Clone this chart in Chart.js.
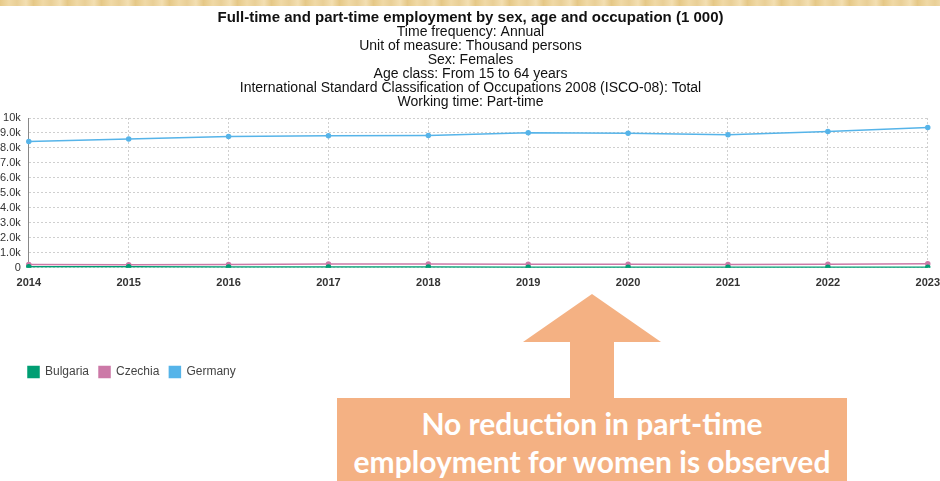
<!DOCTYPE html>
<html lang="en">
<head>
<meta charset="UTF-8">
<title>Part-time employment, females</title>
<script src="https://cdn.jsdelivr.net/npm/chart.js"></script>
<style>
    body {
        margin: 0;
        width: 940px;
        height: 481px;
        overflow: hidden;
        background: #fff;
        position: relative;
    }

    .band {
        position: absolute;
        left: 0; top: 0;
        width: 940px; height: 6px;
        background: repeating-linear-gradient(90deg, #e6c988 0, #f0d9a6 9px, #e9cf96 17px, #f3dfb2 26px, #e4c684 34px);
        z-index: 3;
    }

    .wrap {
        position: absolute;
        left: -8px; top: 0;
        width: 957px; height: 388px;
    }

    .arrow {
        position: absolute;
        left: 0; top: 0;
        z-index: 2;
    }

    .note {
        position: absolute;
        left: 337px; top: 398px;
        width: 510px; height: 90px;
        background: #f4b183;
        color: #fff;
        font-family: Lato, 'Open Sans', sans-serif;
        font-weight: 700;
        font-size: 30px;
        line-height: 38px;
        text-align: center;
        padding-top: 6px;
        box-sizing: border-box;
        z-index: 2;
    }
</style>
</head>
<body>

<div class="band"></div>
<div class="wrap"><canvas id="chart"></canvas></div>

<svg class="arrow" width="940" height="481">
    <polygon points="592,294 661,342 614,342 614,399 570,399 570,342 523,342" fill="#f4b183"/>
</svg>
<div class="note">No reduction in part-time<br>employment for women is observed</div>

<script>
    const years = ['2014', '2015', '2016', '2017', '2018', '2019', '2020', '2021', '2022', '2023'];
    // thousand persons, females 15-64, part-time
    const bulgaria = [70, 65, 60, 55, 50, 45, 40, 38, 40, 42];
    const czechia = [215, 210, 225, 250, 250, 235, 230, 225, 235, 275];
    const germany = [8430, 8590, 8770, 8810, 8840, 9010, 8990, 8880, 9100, 9370];

    const titleText = 'Full-time and part-time employment by sex, age and occupation (1 000)';
    const subtitleLines = [
        'Time frequency: Annual',
        'Unit of measure: Thousand persons',
        'Sex: Females',
        'Age class: From 15 to 64 years',
        'International Standard Classification of Occupations 2008 (ISCO-08): Total',
        'Working time: Part-time'
    ];

    const font = "'Liberation Sans', Arial, sans-serif";

    // move the legend right so it starts under the y axis
    const shiftLegend = {
        id: 'shiftLegend',
        afterLayout(chart) {
            chart.legend.left += 26;
            chart.legend.right += 26;
        }
    };

    function series(label, data, color) {
        return {
            label: label,
            data: data,
            borderColor: color,
            backgroundColor: color,
            borderWidth: 1.5,
            pointRadius: 2,
            pointHoverRadius: 3,
            tension: 0
        };
    }

    new Chart(document.getElementById('chart'), {
        type: 'line',
        data: {
            labels: years,
            datasets: [
                series('Bulgaria', bulgaria, '#009e73'),
                series('Czechia', czechia, '#cc79a7'),
                series('Germany', germany, '#56b4e9')
            ]
        },
        plugins: [shiftLegend],
        options: {
            responsive: true,
            maintainAspectRatio: false,
            animation: false,
            layout: { padding: 0 },
            plugins: {
                title: {
                    display: true,
                    text: titleText,
                    color: '#111',
                    font: { family: font, size: 15, weight: 'bold', lineHeight: 1.0 },
                    padding: { top: 10, bottom: 0 }
                },
                subtitle: {
                    display: true,
                    text: subtitleLines,
                    color: '#111',
                    font: { family: font, size: 14, lineHeight: 1.0 },
                    padding: { top: 0, bottom: 9 }
                },
                legend: {
                    position: 'bottom',
                    align: 'start',
                    labels: {
                        boxWidth: 11,
                        boxHeight: 11,
                        padding: 10,
                        color: '#444',
                        font: { family: font, size: 12 }
                    }
                },
                tooltip: { enabled: false }
            },
            scales: {
                x: {
                    offset: false,
                    grid: { color: '#cfcfcf', drawTicks: false },
                    border: { display: false, dash: [2, 2] },
                    ticks: {
                        padding: 9,
                        maxRotation: 0,
                        color: '#333',
                        font: { family: font, size: 11, weight: 'bold' }
                    },
                    afterFit(scale) { scale.height += 57; }
                },
                y: {
                    min: 0,
                    max: 10000,
                    grid: { color: '#cfcfcf', drawTicks: false },
                    border: { display: true, color: '#888', dash: [2, 2] },
                    ticks: {
                        stepSize: 1000,
                        autoSkip: false,
                        padding: 8,
                        color: '#333',
                        font: { family: font, size: 11 },
                        callback: v => v === 0 ? '0' : (v === 10000 ? '10k' : (v / 1000).toFixed(1) + 'k')
                    }
                }
            }
        }
    });
</script>
</body>
</html>
